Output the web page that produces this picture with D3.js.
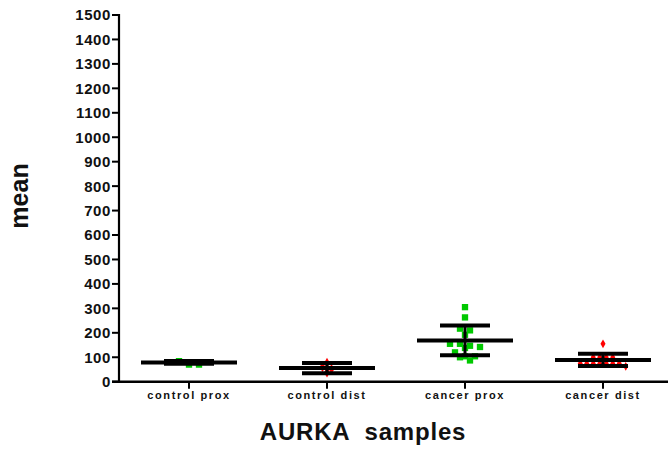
<!DOCTYPE html>
<html>
<head>
<meta charset="utf-8">
<script src="https://cdn.jsdelivr.net/npm/d3@7/dist/d3.min.js"></script>
<style>
  html, body { margin: 0; padding: 0; background: #fff; }
  svg { display: block; }
  text { font-family: "Liberation Sans", Arial, sans-serif; font-weight: bold; fill: #111; }
</style>
</head>
<body>
<svg id="chart" width="668" height="451"></svg>
<script>
// Sample groups on the x axis
const categories = ["control prox", "control dist", "cancer prox", "cancer dist"];

// Individual sample means per group
const controlProx = [70, 70, 84];
const controlDist = [77, 38, 60, 52];
const cancerProx = [305, 263, 217, 210, 192, 155, 142, 138, 147, 155, 120, 104, 104, 87, 100];
const cancerDist = [155, 100, 100, 100, 100, 74, 74, 74, 74, 74, 74, 74, 63];

// Group mean and standard deviation (horizontal bars)
const groupMeans = [79, 56, 169, 89];
const groupSDs = [6, 21, 61, 25];

// Y axis ticks
const yTicks = d3.range(0, 1501, 100);

const groupColors = ["#00c800", "#ff0000", "#00c800", "#ff0000"];
const groupSymbols = [d3.symbolSquare, d3.symbolDiamond, d3.symbolSquare, d3.symbolDiamond];
const symbolSizes = [40, 30, 40, 22];
const rowSpacing = [10, 9, 10, 6.5];

const svg = d3.select("#chart");

const x = d3.scalePoint().domain(categories).range([120, 672]).padding(0.5);
const y = d3.scaleLinear().domain([0, 1500]).range([381.7, 15]);

const axisX0 = 119;
const axisY0 = y(0);

// Scatter points (drawn first, bars sit on top)
const groups = [controlProx, controlDist, cancerProx, cancerDist];
groups.forEach((vals, gi) => {
  const cx = x(categories[gi]);
  // arrange points into horizontal rows by pixel height
  const pts = vals.map(v => ({ v, py: y(v) })).sort((a, b) => a.py - b.py);
  const rows = [];
  pts.forEach(p => {
    const last = rows[rows.length - 1];
    if (last && Math.abs(p.py - last[0].py) < 4) last.push(p);
    else rows.push([p]);
  });
  rows.forEach(row => {
    row.forEach((p, i) => { p.px = cx + (i - (row.length - 1) / 2) * rowSpacing[gi]; });
  });
  svg.append("g")
    .selectAll("path")
    .data(pts)
    .join("path")
    .attr("d", d3.symbol().type(groupSymbols[gi]).size(symbolSizes[gi]))
    .attr("transform", d => `translate(${d.px},${d.py})`)
    .attr("fill", groupColors[gi]);
});

// Mean and ±SD bars with vertical connector
const bars = svg.append("g").attr("stroke", "#000").attr("stroke-width", 4);
categories.forEach((c, i) => {
  const cx = x(c);
  const hi = groupMeans[i] + groupSDs[i];
  const lo = groupMeans[i] - groupSDs[i];
  bars.append("line")
    .attr("x1", cx).attr("x2", cx)
    .attr("y1", y(hi)).attr("y2", y(lo))
    .attr("stroke-width", 3);
  bars.append("line")
    .attr("x1", cx - 48).attr("x2", cx + 48)
    .attr("y1", y(groupMeans[i])).attr("y2", y(groupMeans[i]));
  [hi, lo].forEach(v => {
    bars.append("line")
      .attr("x1", cx - 25).attr("x2", cx + 25)
      .attr("y1", y(v)).attr("y2", y(v));
  });
});

// Y axis
const yAxis = svg.append("g");
yAxis.append("line")
  .attr("x1", axisX0).attr("x2", axisX0)
  .attr("y1", y(1500) - 1).attr("y2", axisY0 + 1)
  .attr("stroke", "#000").attr("stroke-width", 2.2);
yAxis.selectAll("line.tick")
  .data(yTicks)
  .join("line")
  .attr("class", "tick")
  .attr("x1", axisX0 - 7).attr("x2", axisX0)
  .attr("y1", d => y(d)).attr("y2", d => y(d))
  .attr("stroke", "#000").attr("stroke-width", 2);
yAxis.selectAll("text")
  .data(yTicks)
  .join("text")
  .attr("x", axisX0 - 8)
  .attr("y", d => y(d))
  .attr("dy", "0.36em")
  .attr("text-anchor", "end")
  .style("font-size", "15px")
  .style("letter-spacing", "0.6px")
  .text(d => d);

// X axis
const xAxis = svg.append("g");
xAxis.append("line")
  .attr("x1", axisX0 - 7).attr("x2", 668)
  .attr("y1", axisY0).attr("y2", axisY0)
  .attr("stroke", "#000").attr("stroke-width", 2.4);
xAxis.selectAll("line.tick")
  .data(categories)
  .join("line")
  .attr("class", "tick")
  .attr("x1", d => x(d)).attr("x2", d => x(d))
  .attr("y1", axisY0).attr("y2", axisY0 + 7)
  .attr("stroke", "#000").attr("stroke-width", 2);
xAxis.selectAll("text")
  .data(categories)
  .join("text")
  .attr("x", d => x(d))
  .attr("y", 399)
  .attr("text-anchor", "middle")
  .style("font-size", "11px")
  .style("letter-spacing", "1.6px")
  .text(d => d);

// Axis titles
svg.append("text")
  .attr("x", 363)
  .attr("y", 440)
  .attr("text-anchor", "middle")
  .style("font-size", "24px")
  .style("letter-spacing", "0.8px")
  .style("white-space", "pre")
  .text("AURKA  samples");

svg.append("text")
  .attr("transform", "translate(28,196) rotate(-90)")
  .attr("text-anchor", "middle")
  .style("font-size", "25px")
  .text("mean");
</script>
</body>
</html>
